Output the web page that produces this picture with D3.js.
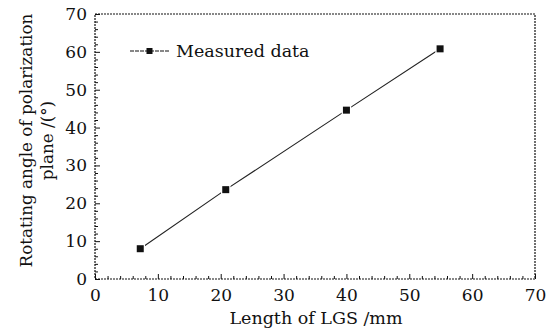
<!DOCTYPE html>
<html><head><meta charset="utf-8">
<script src="https://cdn.jsdelivr.net/npm/d3@7"></script>
<style>
html,body{margin:0;padding:0;background:#fff;}
svg{display:block;}
text{font-family:"DejaVu Serif",serif;fill:#111;}
</style></head>
<body>
<script>
const lengths = [7.2, 20.8, 40.0, 54.9];
const angles = [8.0, 23.6, 44.6, 60.8];
const xTicks = [0, 10, 20, 30, 40, 50, 60, 70];
const yTicks = [0, 10, 20, 30, 40, 50, 60, 70];
const seriesName = "Measured data";
const xTitle = "Length of LGS /mm";
const yTitleLines = ["Rotating angle of polarization", "plane /(°)"];

const W = 552, H = 332;
const m = {left: 95, right: 17, top: 14, bottom: 53};
const svg = d3.select("body").append("svg").attr("width", W).attr("height", H);
const x = d3.scaleLinear().domain([0, 70]).range([m.left, W - m.right]);
const y = d3.scaleLinear().domain([0, 70]).range([H - m.bottom, m.top]);
const minor = d3.range(0, 71, 2);

const ink = "#111";
// bottom axis
const gx = svg.append("g").attr("transform", `translate(0,${H - m.bottom})`)
  .call(d3.axisBottom(x).tickValues(xTicks).tickSize(-5).tickPadding(10).tickFormat(d3.format("d")));
const gxm = svg.append("g").attr("transform", `translate(0,${H - m.bottom})`)
  .call(d3.axisBottom(x).tickValues(minor.filter(v => v % 10)).tickSize(-3).tickFormat(""));
// left axis
const gy = svg.append("g").attr("transform", `translate(${m.left},0)`)
  .call(d3.axisLeft(y).tickValues(yTicks).tickSize(-5).tickPadding(8).tickFormat(d3.format("d")));
const gym = svg.append("g").attr("transform", `translate(${m.left},0)`)
  .call(d3.axisLeft(y).tickValues(minor.filter(v => v % 10)).tickSize(-3).tickFormat(""));
[gx, gxm, gy, gym].forEach(g => {
  g.select(".domain").remove();
  g.selectAll("line").attr("stroke", ink).attr("stroke-width", 1);
  g.selectAll("text").style("font-size", "17px").style("font-family", '"DejaVu Serif",serif').attr("fill", "#111");
});
// frame
svg.append("rect").attr("x", x(0)).attr("y", y(70)).attr("width", x(70) - x(0)).attr("height", y(0) - y(70))
  .attr("fill", "none").attr("stroke", ink).attr("stroke-width", 1.2).attr("stroke-dasharray", "2,1");

// data line
const pts = lengths.map((v, i) => [v, angles[i]]);
svg.append("path").datum(pts)
  .attr("d", d3.line().x(d => x(d[0])).y(d => y(d[1])))
  .attr("fill", "none").attr("stroke", "#222").attr("stroke-width", 1.1);
svg.selectAll("rect.pt").data(pts).join("rect").attr("class", "pt")
  .attr("x", d => x(d[0]) - 3.5).attr("y", d => y(d[1]) - 3.5)
  .attr("width", 7).attr("height", 7).attr("fill", "#111")
  .attr("stroke", "#fff").attr("stroke-width", 2.5).attr("paint-order", "stroke");

// legend
const ly = 51;
svg.append("line").attr("x1", 130).attr("x2", 170).attr("y1", ly).attr("y2", ly)
  .attr("stroke", "#111").attr("stroke-width", 1.2).attr("stroke-dasharray", "4,1");
svg.append("rect").attr("x", 146.5).attr("y", ly - 3).attr("width", 6).attr("height", 6).attr("fill", "#111");
svg.append("text").attr("x", 176).attr("y", ly + 6).style("font-size", "17.5px").text(seriesName);

// titles
svg.append("text").attr("x", (x(0) + x(70)) / 2 + 1).attr("y", 324).attr("text-anchor", "middle")
  .style("font-size", "17.5px").text(xTitle);
const cy = (y(0) + y(70)) / 2 - 6;
yTitleLines.forEach((t, i) => {
  svg.append("text").attr("transform", `translate(${32 + i * 21},${cy}) rotate(-90)`)
    .attr("text-anchor", "middle").style("font-size", "16.8px").text(t);
});
</script>
</body></html>
